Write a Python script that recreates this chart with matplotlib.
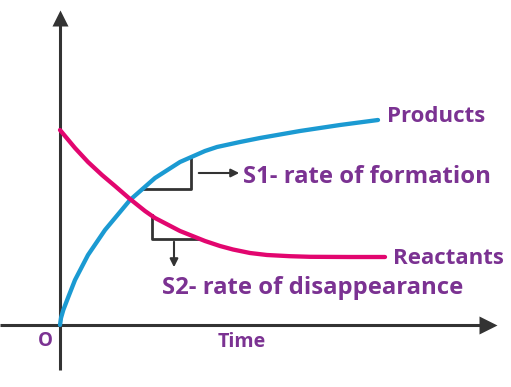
import matplotlib
matplotlib.use("Agg")
import matplotlib.pyplot as plt
import numpy as np

# values (time units, concentration units; origin at axes crossing)
products_t = [0, 1, 3.3, 8.3, 15, 28, 45, 70, 95, 120, 145, 157, 180, 200, 240, 280, 318]
products_c = [0, 7, 15, 28, 45, 70, 95, 125, 147, 163, 174, 178, 183, 187, 194, 200, 205]

reactants_t = [0, 5, 15, 28, 42, 55, 70, 85, 95, 120, 145, 160, 173, 190, 207, 230, 250, 290, 325]
reactants_c = [195, 189, 177, 163, 150, 139, 126, 114, 107, 94, 84, 79, 75.5, 72, 70, 68.8, 68.2, 68, 68]

series_labels = ["Products", "Reactants"]
x_label = "Time"
origin_label = "O"
s1_label = "S1- rate of formation"
s2_label = "S2- rate of disappearance"

blue = "#1b9ad2"
pink = "#e2066f"
purple = "#7b3292"
dark = "#333333"

fig = plt.figure(figsize=(5.11, 3.87), dpi=100)
ax = fig.add_axes([0, 0, 1, 1])
ax.set_xlim(-60, 451)
ax.set_ylim(-62, 325)
ax.axis("off")

# axes with arrowheads
ax.plot([0, 0], [-45, 305], color=dark, lw=2.2, solid_capstyle="butt")
ax.plot([0], [307], marker="^", ms=12, color=dark, mec="none")
ax.plot([-60, 425], [0, 0], color=dark, lw=2.2, solid_capstyle="butt")
ax.plot([428], [0], marker=">", ms=13, color=dark, mec="none")

# curves
ax.plot(products_t, products_c, color=blue, lw=3.1, solid_capstyle="round",
        solid_joinstyle="round", zorder=3)
ax.plot(reactants_t, reactants_c, color=pink, lw=3.1, solid_capstyle="round",
        solid_joinstyle="round", zorder=3)

# slope triangles
ax.plot([82, 131, 131], [136, 136, 166], color=dark, lw=2, zorder=2)
ax.plot([92, 92, 141], [110, 86, 86], color=dark, lw=2, zorder=2)
ax.annotate("", xy=(182, 152), xytext=(136, 152),
            arrowprops=dict(arrowstyle="-|>", color=dark, lw=1.5, mutation_scale=12))
ax.annotate("", xy=(114, 55), xytext=(114, 86),
            arrowprops=dict(arrowstyle="-|>", color=dark, lw=1.5, mutation_scale=12))

font = dict(family="Open Sans", weight="bold", color=purple)
ax.text(183, 148, s1_label, fontsize=17.2, va="center", ha="left", **font)
ax.text(102, 37, s2_label, fontsize=17.2, va="center", ha="left", **font)
ax.text(327, 209, series_labels[0], fontsize=16, va="center", ha="left", **font)
ax.text(333, 67, series_labels[1], fontsize=16, va="center", ha="left", **font)
ax.text(-15, -16, origin_label, fontsize=13.5, va="center", ha="center", **font)
ax.text(158, -17, x_label, fontsize=14.2, va="center", ha="left", **font)

fig.savefig("out.png", dpi=100)
